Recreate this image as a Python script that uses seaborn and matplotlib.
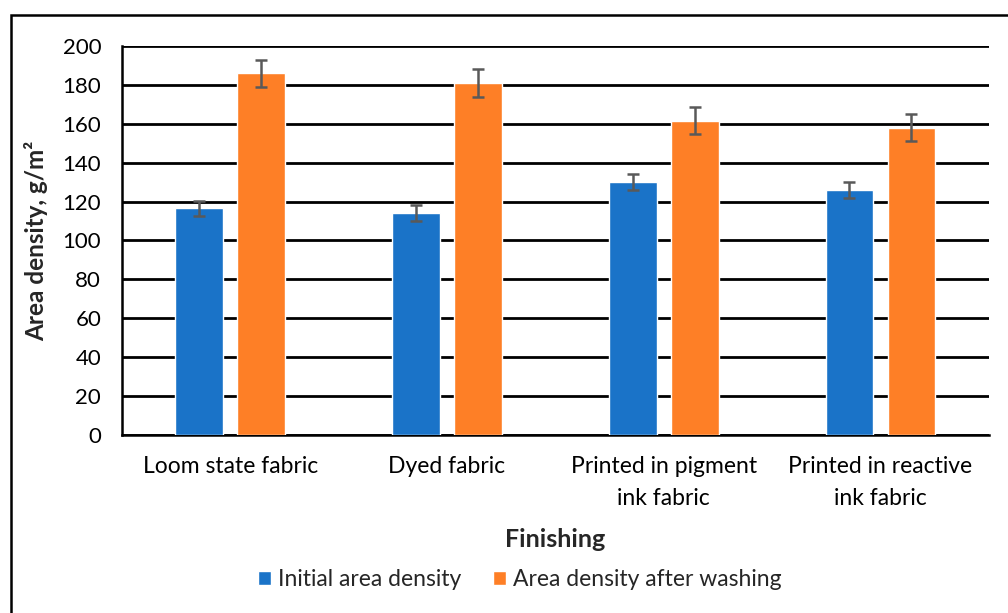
import matplotlib
matplotlib.use("Agg")
import matplotlib.pyplot as plt
from matplotlib.patches import Rectangle
import seaborn as sns
import pandas as pd
import numpy as np

categories = ["Loom state fabric", "Dyed fabric",
              "Printed in pigment\nink fabric", "Printed in reactive\nink fabric"]
series = ["Initial area density", "Area density after washing"]
initial = [116.5, 114.0, 130.0, 126.0]
after_washing = [186.0, 181.0, 161.5, 158.0]
err_initial = [4.0, 4.0, 4.0, 4.0]
err_after = [7.0, 7.0, 7.0, 7.0]
yticks = [0, 20, 40, 60, 80, 100, 120, 140, 160, 180, 200]

colors = ["#1A73C8", "#FE7F26"]

df = pd.DataFrame({
    "Finishing": categories * 2,
    "Series": [series[0]] * 4 + [series[1]] * 4,
    "Value": initial + after_washing,
})

sns.set_theme(style="white")
plt.rcParams["font.family"] = ["Lato", "DejaVu Sans"]

fig = plt.figure(figsize=(10.08, 6.13), dpi=100)
ax = fig.add_axes([0.121, 0.2904, 0.860, 0.6346])

sns.barplot(data=df, x="Finishing", y="Value", hue="Series", order=categories,
            hue_order=series, palette=colors, width=0.572, gap=0.227,
            errorbar=None, saturation=1, ax=ax, legend=True, zorder=3)

# error bars on top of each bar
for cont, errs in zip(ax.containers, [err_initial, err_after]):
    xs = [p.get_x() + p.get_width() / 2 for p in cont.patches]
    hs = [p.get_height() for p in cont.patches]
    ax.errorbar(xs, hs, yerr=errs, fmt="none", ecolor="#595959",
                elinewidth=1.8, capsize=4.3, capthick=1.8, zorder=4)

ax.set_ylim(0, 200)
ax.set_xlim(-0.5, 3.5)
ax.set_yticks(yticks)
ax.yaxis.grid(True, color="black", linewidth=2.0, zorder=0)
ax.set_axisbelow(True)
for s in ["top", "right"]:
    ax.spines[s].set_visible(False)
for s in ["left", "bottom"]:
    ax.spines[s].set_color("black")
    ax.spines[s].set_linewidth(1.8)
ax.tick_params(axis="y", length=0, labelsize=16, colors="black", pad=15)
ax.tick_params(axis="x", length=0, labelsize=16.5, colors="black", pad=15)
for lab in ax.get_xticklabels():
    lab.set_multialignment("center")
    lab.set_linespacing(1.65)
    lab.set_verticalalignment("top")

ax.set_ylabel("Area density, g/m²", fontsize=17.5, fontweight="bold", labelpad=10)
ax.set_xlabel("Finishing", fontsize=18, fontweight="bold", labelpad=14)

handles, labels = ax.get_legend_handles_labels()
ax.legend(handles, labels, loc="center", bbox_to_anchor=(0.459, -0.372),
          ncol=2, frameon=False, fontsize=16.5, handlelength=0.55,
          handleheight=0.55, handletextpad=0.3, columnspacing=1.4)

# outer chart frame
fig.patches.append(Rectangle((11 / 1008, -0.05), 1.2, (613 - 15) / 613 + 0.05,
                             transform=fig.transFigure, fill=False,
                             edgecolor="black", linewidth=1.8))

fig.savefig("out.png", dpi=100)
